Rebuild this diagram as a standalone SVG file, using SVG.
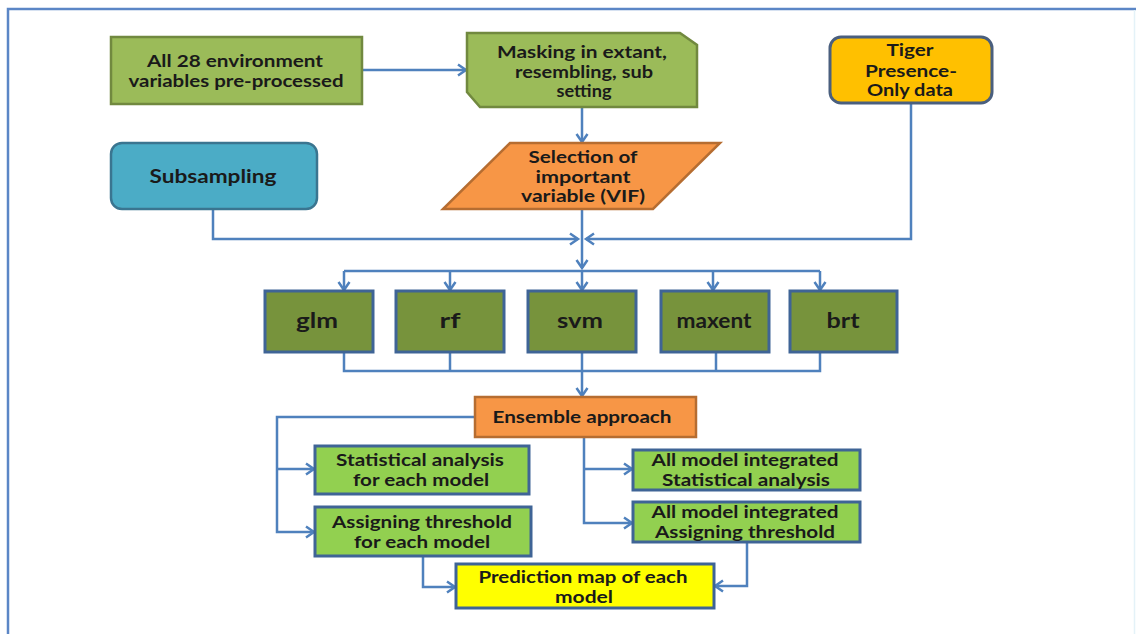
<svg xmlns="http://www.w3.org/2000/svg" width="1136" height="634" viewBox="0 0 1136 634">
<defs>
<marker id="ah" markerUnits="userSpaceOnUse" markerWidth="14" markerHeight="14" viewBox="0 0 14 14" refX="11" refY="7" orient="auto">
<path d="M3,1.5 L11,7 L3,12.5" fill="none" stroke="#4f81bd" stroke-width="2.5"/>
</marker>
<style>
.t{font-family:Lato,"Liberation Sans",sans-serif;font-weight:bold;font-size:17px;fill:#1a1a1a;text-anchor:middle}
.m{font-size:21px}
.c{fill:none;stroke:#4f81bd;stroke-width:2.5}
.ca{fill:none;stroke:#4f81bd;stroke-width:2.5;marker-end:url(#ah)}
.olive{fill:#9bbb59;stroke:#71893f;stroke-width:2.5}
.model{fill:#77933c;stroke:#3f6496;stroke-width:3}
.lg{fill:#92d050;stroke:#3f6496;stroke-width:3}
.orange{fill:#f79646;stroke:#b66d31;stroke-width:2.5}
</style>
</defs>
<rect width="1136" height="634" fill="#ffffff"/>
<path d="M8,634 V9 H1136" fill="none" stroke="#5b86c6" stroke-width="2.5"/>
<line x1="1134.5" y1="10" x2="1134.5" y2="634" stroke="#e4f2f8" stroke-width="1.5"/>

<g id="connectors">
<path class="ca" d="M362,70 H466"/>
<path class="ca" d="M582,107 V142"/>
<path class="ca" d="M582,209 V268"/>
<path class="ca" d="M213,209 V239 H578"/>
<path class="ca" d="M911,103 V239 H586"/>
<path class="c" d="M344,271 H820"/>
<path class="ca" d="M344,271 V290"/>
<path class="ca" d="M450,271 V290"/>
<path class="ca" d="M582,271 V290"/>
<path class="ca" d="M713,271 V290"/>
<path class="ca" d="M820,271 V290"/>
<path class="c" d="M344,352 V371 H820 V352"/>
<path class="c" d="M450,352 V371"/>
<path class="c" d="M716,352 V371"/>
<path class="ca" d="M582,352 V396"/>
<path class="ca" d="M475,417 H277 V532 H314"/>
<path class="ca" d="M277,469 H314"/>
<path class="ca" d="M584,437 V523 H632"/>
<path class="ca" d="M584,469 H632"/>
<path class="ca" d="M423,556 V587 H455"/>
<path class="ca" d="M747,542 V586 H715"/>
</g>

<g id="n-env">
<rect class="olive" x="111" y="37" width="251" height="67"/>
<text class="t" x="235" y="67" textLength="176" lengthAdjust="spacingAndGlyphs">All 28 environment</text>
<text class="t" x="236" y="87" textLength="215" lengthAdjust="spacingAndGlyphs">variables pre-processed</text>
</g>

<g id="n-mask">
<path class="olive" d="M467,33 H680 L697,45 V107 H480 L467,92 Z"/>
<text class="t" x="582" y="58" textLength="170" lengthAdjust="spacingAndGlyphs">Masking in extant,</text>
<text class="t" x="584" y="78" textLength="138" lengthAdjust="spacingAndGlyphs">resembling, sub</text>
<text class="t" x="584" y="97" textLength="55" lengthAdjust="spacingAndGlyphs">setting</text>
</g>

<g id="n-tiger">
<rect x="830" y="37" width="162" height="66" rx="11" fill="#ffc000" stroke="#4a5f7e" stroke-width="3"/>
<text class="t" x="910" y="56" textLength="47" lengthAdjust="spacingAndGlyphs">Tiger</text>
<text class="t" x="911" y="77" textLength="92" lengthAdjust="spacingAndGlyphs">Presence-</text>
<text class="t" x="910" y="96" textLength="86" lengthAdjust="spacingAndGlyphs">Only data</text>
</g>

<g id="n-sub">
<rect x="111" y="143" width="206" height="66" rx="11" fill="#4bacc6" stroke="#3a7590" stroke-width="2.5"/>
<text class="t" x="213" y="183" style="font-size:18px" textLength="127" lengthAdjust="spacingAndGlyphs">Subsampling</text>
</g>

<g id="n-sel">
<path class="orange" d="M510,143 H720 L653,209 H443 Z"/>
<text class="t" x="583" y="163" textLength="109" lengthAdjust="spacingAndGlyphs">Selection of</text>
<text class="t" x="583" y="183" textLength="95" lengthAdjust="spacingAndGlyphs">important</text>
<text class="t" x="583" y="202" textLength="124" lengthAdjust="spacingAndGlyphs">variable (VIF)</text>
</g>

<g id="n-glm">
<rect class="model" x="265" y="291" width="108" height="61"/>
<text class="t m" x="317" y="328" textLength="42" lengthAdjust="spacingAndGlyphs">glm</text>
</g>
<g id="n-rf">
<rect class="model" x="396" y="291" width="108" height="61"/>
<text class="t m" x="450" y="328" textLength="21" lengthAdjust="spacingAndGlyphs">rf</text>
</g>
<g id="n-svm">
<rect class="model" x="528" y="291" width="108" height="61"/>
<text class="t m" x="580" y="328" textLength="46" lengthAdjust="spacingAndGlyphs">svm</text>
</g>
<g id="n-maxent">
<rect class="model" x="661" y="291" width="108" height="61"/>
<text class="t m" x="714" y="328" textLength="75" lengthAdjust="spacingAndGlyphs">maxent</text>
</g>
<g id="n-brt">
<rect class="model" x="790" y="291" width="107" height="61"/>
<text class="t m" x="843" y="328" textLength="33" lengthAdjust="spacingAndGlyphs">brt</text>
</g>

<g id="n-ens">
<rect class="orange" x="475" y="397" width="221" height="40"/>
<text class="t" x="582" y="423" textLength="179" lengthAdjust="spacingAndGlyphs">Ensemble approach</text>
</g>

<g id="n-stat">
<rect class="lg" x="315" y="446" width="214" height="48"/>
<text class="t" x="420" y="466" textLength="168" lengthAdjust="spacingAndGlyphs">Statistical analysis</text>
<text class="t" x="421" y="486" textLength="136" lengthAdjust="spacingAndGlyphs">for each model</text>
</g>

<g id="n-assign">
<rect class="lg" x="315" y="507" width="216" height="49"/>
<text class="t" x="422" y="528" textLength="180" lengthAdjust="spacingAndGlyphs">Assigning threshold</text>
<text class="t" x="422" y="548" textLength="136" lengthAdjust="spacingAndGlyphs">for each model</text>
</g>

<g id="n-allstat">
<rect class="lg" x="633" y="450" width="227" height="40"/>
<text class="t" x="745" y="466" textLength="187" lengthAdjust="spacingAndGlyphs">All model integrated</text>
<text class="t" x="746" y="486" textLength="168" lengthAdjust="spacingAndGlyphs">Statistical analysis</text>
</g>

<g id="n-allassign">
<rect class="lg" x="633" y="502" width="227" height="40"/>
<text class="t" x="745" y="518" textLength="187" lengthAdjust="spacingAndGlyphs">All model integrated</text>
<text class="t" x="745" y="538" textLength="180" lengthAdjust="spacingAndGlyphs">Assigning threshold</text>
</g>

<g id="n-pred">
<rect x="456" y="564" width="258" height="44" fill="#ffff00" stroke="#3f6496" stroke-width="3"/>
<text class="t" x="583" y="583" textLength="209" lengthAdjust="spacingAndGlyphs">Prediction map of each</text>
<text class="t" x="584" y="603" textLength="58" lengthAdjust="spacingAndGlyphs">model</text>
</g>
</svg>
